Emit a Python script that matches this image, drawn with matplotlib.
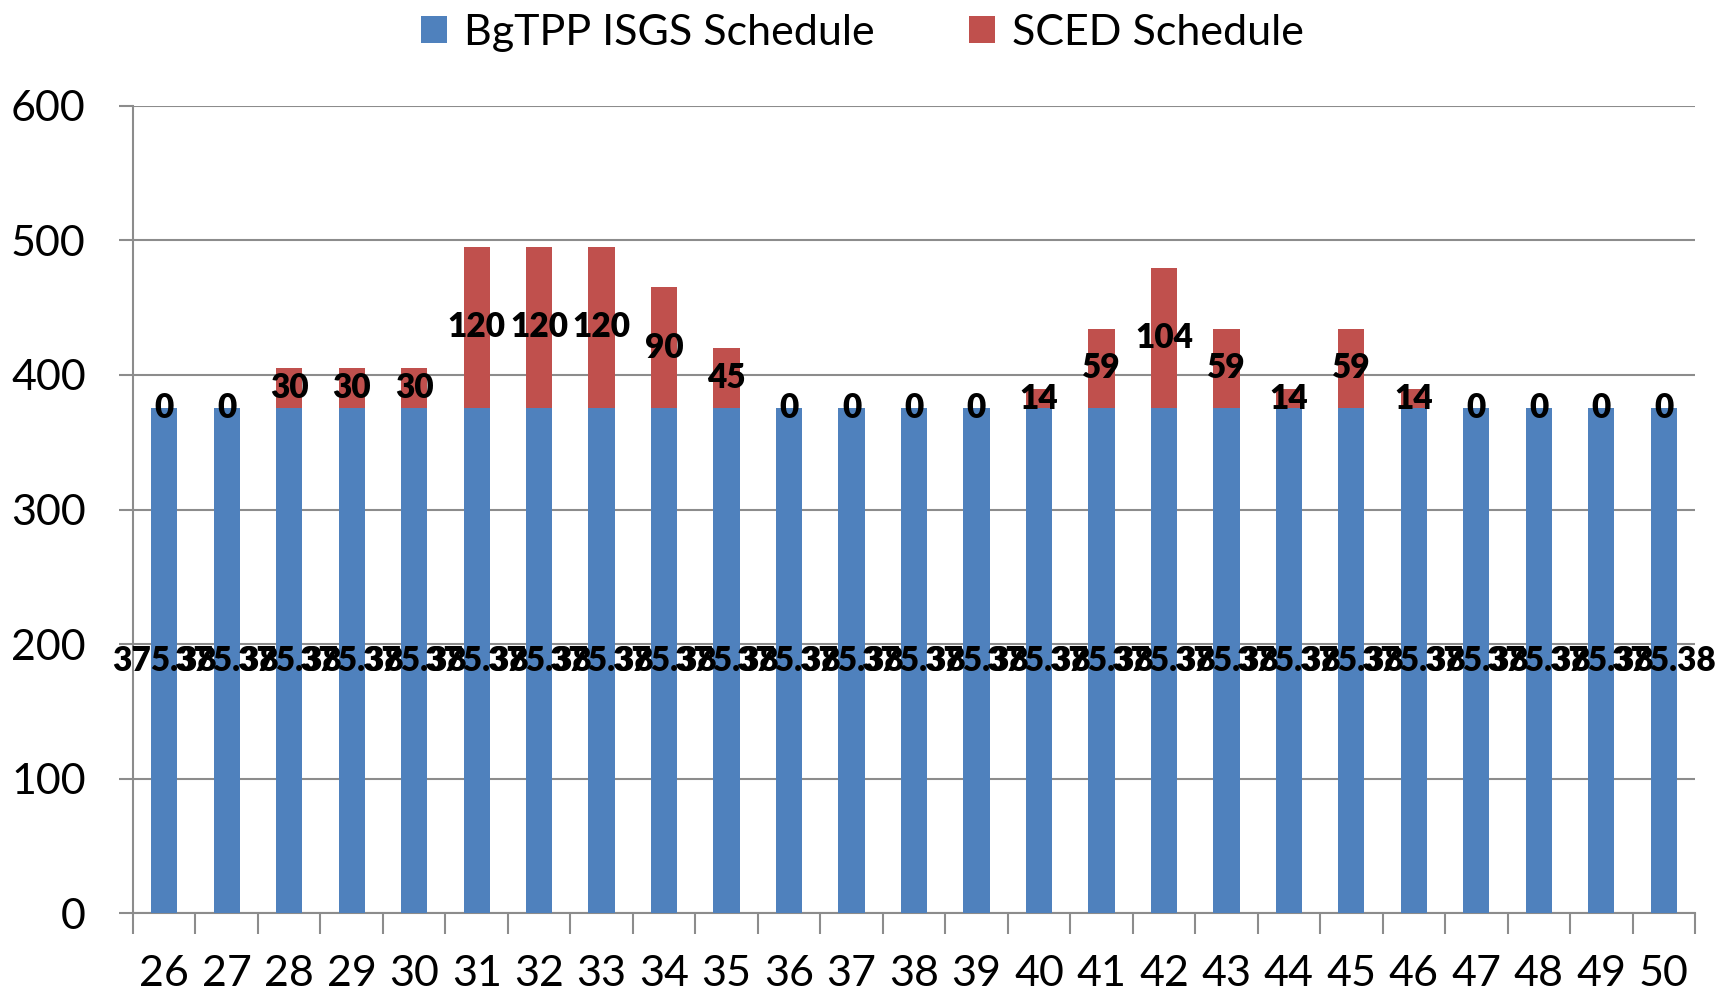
import matplotlib
matplotlib.use("Agg")
import matplotlib.pyplot as plt
import numpy as np

categories = [str(i) for i in range(26, 51)]
isgs = [375.38] * 25
sced = [0, 0, 30, 30, 30, 120, 120, 120, 90, 45, 0, 0, 0, 0, 14, 59, 104, 59, 14, 59, 14, 0, 0, 0, 0]
yticks = [0, 100, 200, 300, 400, 500, 600]

blue = "#4F81BD"
red = "#C0504D"
grid_c = "#8c8c8c"
fam = ["Lato", "DejaVu Sans"]

fig = plt.figure(figsize=(17.25, 9.96), dpi=100)
ax = fig.add_axes([0.0771, 0.0833, 0.9055, 0.8103])

x = np.arange(len(categories))
w = 0.42
b1 = ax.bar(x, isgs, w, color=blue, label="BgTPP ISGS Schedule", zorder=3)
b2 = ax.bar(x, sced, w, bottom=isgs, color=red, label="SCED Schedule", zorder=3)

lab_font = dict(family=fam, fontsize=24, fontweight="heavy")
for xi, v in zip(x, isgs):
    ax.text(xi, v / 2, f"{v:.2f}", ha="center", va="center", zorder=5, **lab_font)
for xi, b, v in zip(x, isgs, sced):
    ax.text(xi, b + v / 2, f"{v:g}", ha="center", va="center", zorder=5, **lab_font)

ax.set_xlim(-0.5, len(categories) - 0.5)
ax.set_ylim(0, 600)
ax.set_yticks(yticks)
ax.set_xticks(np.arange(len(categories) + 1) - 0.5, minor=False)
ax.set_xticklabels([])
ax.set_xticks(x, minor=True)
ax.set_xticklabels(categories, minor=True)
ax.tick_params(axis="x", which="major", length=15, color=grid_c, width=1.5, direction="out")
ax.tick_params(axis="x", which="minor", length=0, pad=30, labelsize=31)
ax.tick_params(axis="y", length=10, color=grid_c, width=1.5, labelsize=31, pad=24)
for lbl in ax.get_xticklabels(minor=True) + ax.get_yticklabels():
    lbl.set_family(fam)

ax.yaxis.grid(True, color=grid_c, linewidth=1.5, zorder=0)
ax.set_axisbelow(True)
for s in ["top", "right"]:
    ax.spines[s].set_visible(False)
for s in ["left", "bottom"]:
    ax.spines[s].set_color(grid_c)
    ax.spines[s].set_linewidth(1.5)

leg = fig.legend(handles=[b1, b2], loc="upper center", bbox_to_anchor=(0.5, 1.025), ncol=2,
                 frameon=False, prop=dict(family=fam, size=31),
                 handlelength=0.6, handleheight=0.6, handletextpad=0.4, columnspacing=2.2)

fig.savefig("out.png", dpi=100)
